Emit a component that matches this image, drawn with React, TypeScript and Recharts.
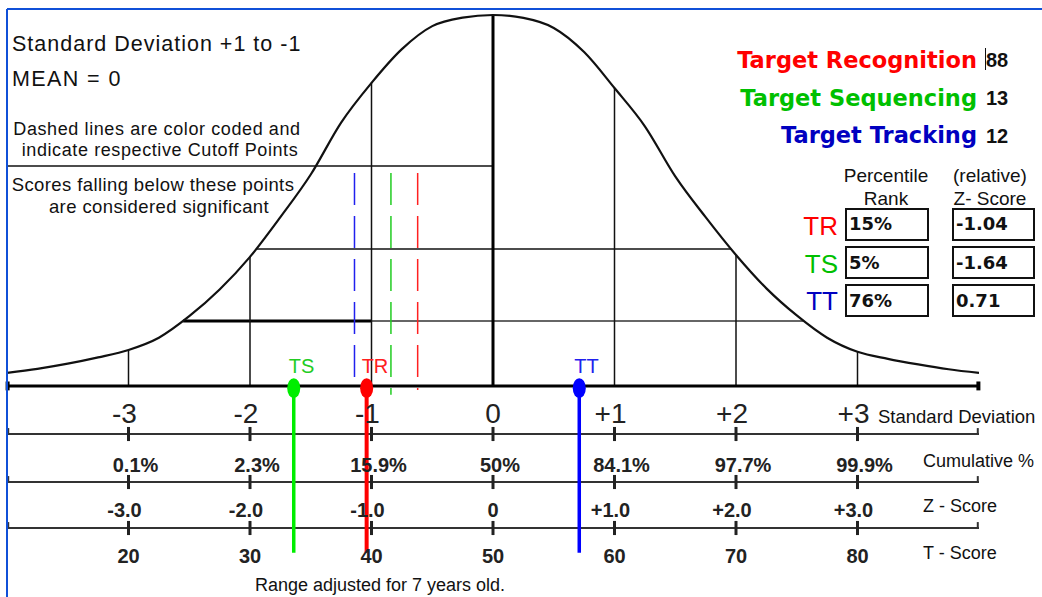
import React from 'react';
import { ComposedChart, Line, XAxis, YAxis, ReferenceLine, ReferenceDot } from 'recharts';

// bell curve: height above the baseline, peak = 100
const curveSd = [-4, -3.75, -3.5, -3.25, -3, -2.75, -2.5, -2.25, -2, -1.75, -1.5, -1.25, -1, -0.75, -0.5, -0.25, 0,
  0.25, 0.5, 0.75, 1, 1.25, 1.5, 1.75, 2, 2.25, 2.5, 2.75, 3, 3.25, 3.5, 3.75, 4];
const curveHeight = [3.5, 4.6, 6.0, 7.7, 9.7, 13.0, 18.8, 26.0, 34.8, 45.5, 57.0, 71.0, 81.7, 90.8, 97.0, 99.3, 100,
  99.2, 96.5, 90.0, 80.3, 70.0, 56.5, 45.5, 35.3, 26.3, 19.0, 13.0, 9.2, 7.3, 5.8, 4.5, 3.5];

// scale rows under the curve
const sdTicks = [-3, -2, -1, 0, 1, 2, 3];
const sdLabels = ['-3', '-2', '-1', '0', '+1', '+2', '+3'];
const cumulativeLabels = ['0.1%', '2.3%', '15.9%', '50%', '84.1%', '97.7%', '99.9%'];
const zLabels = ['-3.0', '-2.0', '-1.0', '0', '+1.0', '+2.0', '+3.0'];
const tLabels = ['20', '30', '40', '50', '60', '70', '80'];

// the three measures
const measureCodes = ['TR', 'TS', 'TT'];
const measureNames = ['Target Recognition', 'Target Sequencing', 'Target Tracking'];
const rawScores = ['88', '13', '12'];
const percentileRanks = ['15%', '5%', '76%'];
const zScores = [-1.04, -1.64, 0.71];
const zScoreText = ['-1.04', '-1.64', '0.71'];
const cutoffPoints = [-0.62, -0.84, -1.14];

const textColors = ['#ff0000', '#00c000', '#0000c0'];
const markerColors = ['#ff0000', '#00ee00', '#0000ff'];
const dashColors = ['#ff2020', '#22cc22', '#2020ee'];

const curveData = curveSd.map((sd, i) => ({ sd, h: curveHeight[i] }));
const heightAt = (sd: number) => curveHeight[curveSd.indexOf(sd)];

// vertical positions in curve units (baseline = 0)
const ROW_LINES = [-12.96, -25.9, -38.3];
const SD_TEXT = -10.0;
const CUM_TEXT = -23.2;
const Z_TEXT = -35.3;
const T_TEXT = -47.7;
const MARKER_BOTTOM = -45;
const DASH_TOP = 57.4;
const dashBottoms = [-1.1, -2.4, 1.6];

const FONT = '"Liberation Sans", Arial, sans-serif';
const WIDE = '"DejaVu Sans", Verdana, sans-serif';

const textDot = (key: string, x: number, y: number, label: string, props: any) => (
  <ReferenceDot
    key={key}
    x={x}
    y={y}
    r={0}
    ifOverflow="visible"
    shape={(p: any) => (
      <text x={p.cx} y={p.cy} fontFamily={FONT} {...props}>{label}</text>
    )}
  />
);

export default function App() {
  return (
    <div style={{ position: 'absolute', left: 0, top: 0, width: 1042, height: 597, background: '#fff' }}>
      <ComposedChart
        width={1042}
        height={597}
        data={curveData}
        margin={{ top: 0, right: 63, bottom: 0, left: 7 }}
      >
        <XAxis type="number" dataKey="sd" domain={[-4, 4]} hide allowDataOverflow />
        <YAxis type="number" domain={[-56.9, 104.04]} hide allowDataOverflow />

        {/* note separator and inner grid */}
        <ReferenceLine segment={[{ x: -4, y: 59.3 }, { x: 0, y: 59.3 }]} stroke="#111" strokeWidth={1.5} ifOverflow="visible" />
        <ReferenceLine segment={[{ x: -1.95, y: 36.9 }, { x: 1.96, y: 36.9 }]} stroke="#111" strokeWidth={1.5} ifOverflow="visible" />
        <ReferenceLine segment={[{ x: -2.55, y: 17.5 }, { x: 2.56, y: 17.5 }]} stroke="#333" strokeWidth={1.5} ifOverflow="visible" />
        <ReferenceLine segment={[{ x: -2.55, y: 17.5 }, { x: -1, y: 17.5 }]} stroke="#000" strokeWidth={3} ifOverflow="visible" />
        {sdTicks.filter(s => s !== 0).map(s => (
          <ReferenceLine key={'v' + s} segment={[{ x: s, y: heightAt(s) }, { x: s, y: 0 }]} stroke="#111" strokeWidth={1.5} ifOverflow="visible" />
        ))}
        <ReferenceLine segment={[{ x: 0, y: 100 }, { x: 0, y: 0 }]} stroke="#000" strokeWidth={3} ifOverflow="visible" />

        {/* cutoff points */}
        {cutoffPoints.map((c, i) => (
          <ReferenceLine key={'c' + i} segment={[{ x: c, y: DASH_TOP }, { x: c, y: dashBottoms[i] }]}
            stroke={dashColors[i]} strokeWidth={1.5} strokeDasharray="32 11" ifOverflow="visible" />
        ))}

        {/* baseline */}
        <ReferenceLine segment={[{ x: -4, y: 0 }, { x: 4, y: 0 }]} stroke="#000" strokeWidth={3} ifOverflow="visible" />
        <ReferenceLine segment={[{ x: -3.995, y: 1.2 }, { x: -3.995, y: -1.2 }]} stroke="#000" strokeWidth={4} ifOverflow="visible" />
        <ReferenceLine segment={[{ x: 3.995, y: 1.2 }, { x: 3.995, y: -1.2 }]} stroke="#000" strokeWidth={4} ifOverflow="visible" />

        {/* scale rows */}
        {ROW_LINES.map((r, i) => (
          <ReferenceLine key={'r' + i} segment={[{ x: -4, y: r }, { x: 4, y: r }]} stroke="#333" strokeWidth={2} ifOverflow="visible" />
        ))}
        {ROW_LINES.map((r, i) => (
          <ReferenceLine key={'rl' + i} segment={[{ x: -3.99, y: r + 1.6 }, { x: -3.99, y: r }]} stroke="#333" strokeWidth={2} ifOverflow="visible" />
        ))}
        {ROW_LINES.map((r, i) => (
          <ReferenceLine key={'rr' + i} segment={[{ x: 3.99, y: r + 1.6 }, { x: 3.99, y: r }]} stroke="#333" strokeWidth={2} ifOverflow="visible" />
        ))}
        {ROW_LINES.flatMap((r, i) => sdTicks.map(s => (
          <ReferenceLine key={'t' + i + s} segment={[{ x: s, y: r + 1.9 }, { x: s, y: r - 1.9 }]} stroke="#222" strokeWidth={3} ifOverflow="visible" />
        )))}

        {sdTicks.map((s, i) => textDot('sd' + s, s, SD_TEXT, sdLabels[i],
          { textAnchor: 'middle', dx: s === 0 ? 0 : -4, fontSize: 28, fill: '#222' }))}
        {sdTicks.map((s, i) => textDot('cu' + s, s, CUM_TEXT, cumulativeLabels[i],
          { textAnchor: 'middle', dx: 7, fontSize: 20, fontWeight: 'bold', fill: '#222' }))}
        {sdTicks.map((s, i) => textDot('z' + s, s, Z_TEXT, zLabels[i],
          { textAnchor: 'middle', dx: s === 0 ? 0 : -4, fontSize: 20, fontWeight: 'bold', fill: '#222' }))}
        {sdTicks.map((s, i) => textDot('ts' + s, s, T_TEXT, tLabels[i],
          { textAnchor: 'middle', fontSize: 20, fontWeight: 'bold', fill: '#222' }))}

        <Line type="monotone" dataKey="h" stroke="#111" strokeWidth={2.2} dot={false} isAnimationActive={false} />

        {/* measure markers */}
        {zScores.map((z, i) => (
          <ReferenceLine key={'m' + i} segment={[{ x: z, y: 0 }, { x: z, y: MARKER_BOTTOM }]}
            stroke={markerColors[i]} strokeWidth={i === 0 ? 4 : 3.5} ifOverflow="visible" />
        ))}
        {zScores.map((z, i) => (
          <ReferenceDot key={'md' + i} x={z} y={-0.6} r={0} ifOverflow="visible"
            shape={(p: any) => <ellipse cx={p.cx} cy={p.cy} rx={6.5} ry={10} fill={markerColors[i]} />} />
        ))}
        {zScores.map((z, i) => textDot('ml' + i, z, 3.5, measureCodes[i],
          { textAnchor: 'start', dx: -5, fontSize: 20, fill: dashColors[i] }))}
      </ComposedChart>

      <svg width={1042} height={597} style={{ position: 'absolute', left: 0, top: 0, pointerEvents: 'none' }}>
        <line x1={7} y1={9} x2={1042} y2={9} stroke="#1050d8" strokeWidth={2} />
        <line x1={7} y1={9} x2={7} y2={597} stroke="#1050d8" strokeWidth={2} />

        <g fontFamily={FONT} fill="#111">
          <text x={12} y={51} fontSize={21.5} letterSpacing={1}>Standard Deviation +1 to -1</text>
          <text x={12} y={86} fontSize={21.5} letterSpacing={1.4}>MEAN = 0</text>
          <text x={157} y={135} fontSize={18} letterSpacing={0.6} textAnchor="middle">Dashed lines are color coded and</text>
          <text x={160} y={156} fontSize={18} letterSpacing={0.6} textAnchor="middle">indicate respective Cutoff Points</text>
          <text x={153} y={191} fontSize={18.5} letterSpacing={0.4} textAnchor="middle">Scores falling below these points</text>
          <text x={159} y={213} fontSize={18.5} letterSpacing={0.4} textAnchor="middle">are considered significant</text>

          <text x={878} y={423} fontSize={18.5}>Standard Deviation</text>
          <text x={923} y={467} fontSize={18}>Cumulative %</text>
          <text x={923} y={512} fontSize={18}>Z - Score</text>
          <text x={923} y={559} fontSize={18}>T - Score</text>
          <text x={380} y={591} fontSize={18} textAnchor="middle">Range adjusted for 7 years old.</text>

          <text x={886} y={182} fontSize={19} textAnchor="middle">Percentile</text>
          <text x={886} y={205} fontSize={19} textAnchor="middle">Rank</text>
          <text x={990} y={182} fontSize={19} textAnchor="middle">(relative)</text>
          <text x={990} y={205} fontSize={19} textAnchor="middle">Z- Score</text>
        </g>

        {measureNames.map((n, i) => (
          <g key={n}>
            <text x={977} y={68 + i * 37.5} textAnchor="end" fontFamily={WIDE} fontWeight="bold" fontSize={22.5} fill={textColors[i]}>{n}</text>
            <text x={986} y={67 + i * 38} fontFamily={FONT} fontWeight="bold" fontSize={20} fill="#111">{rawScores[i]}</text>
          </g>
        ))}
        <line x1={985.5} y1={48} x2={985.5} y2={70} stroke="#111" strokeWidth={1} />

        {measureCodes.map((c, i) => (
          <g key={c}>
            <text x={838} y={235 + i * 37.5} textAnchor="end" fontFamily={FONT} fontSize={26} fill={textColors[i]}>{c}</text>
            <rect x={846} y={209 + i * 38} width={82} height={31} fill="#fff" stroke="#111" strokeWidth={2} />
            <rect x={953} y={209 + i * 38} width={81} height={31} fill="#fff" stroke="#111" strokeWidth={2} />
            <text x={849} y={230 + i * 38.5} fontFamily={WIDE} fontWeight="bold" fontSize={18} fill="#111">{percentileRanks[i]}</text>
            <text x={956} y={230 + i * 38.5} fontFamily={WIDE} fontWeight="bold" fontSize={18} fill="#111">{zScoreText[i]}</text>
          </g>
        ))}
      </svg>
    </div>
  );
}
